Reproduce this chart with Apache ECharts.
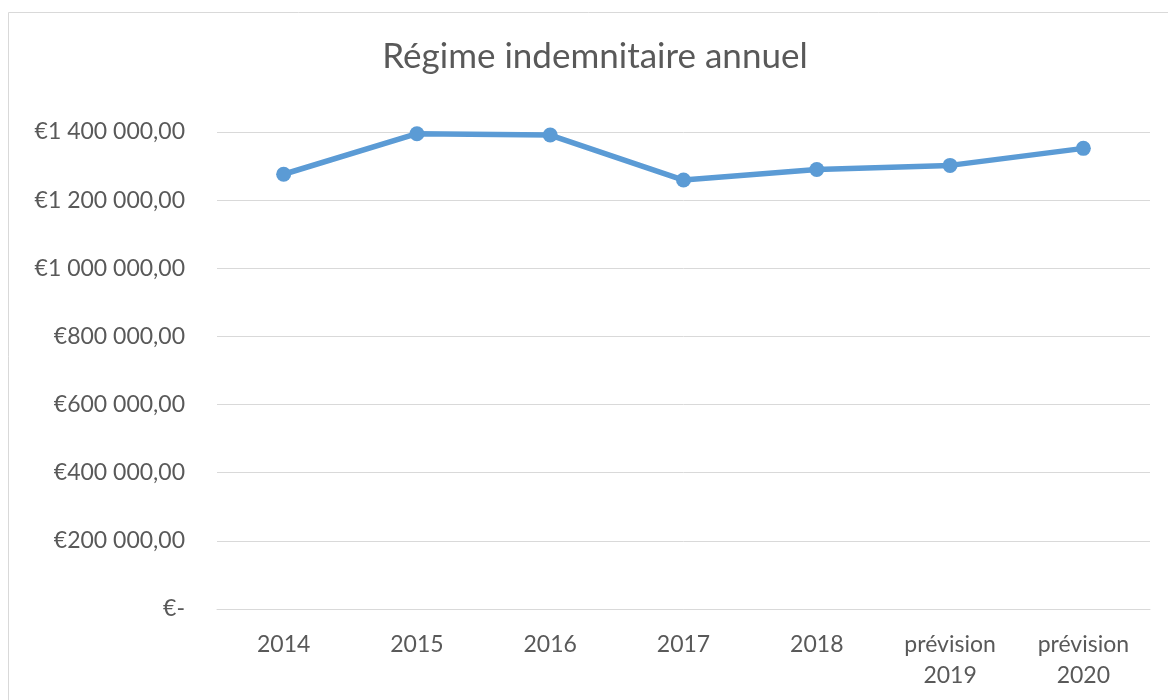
<!DOCTYPE html>
<html>
<head>
<meta charset="utf-8">
<script src="https://cdn.jsdelivr.net/npm/echarts@6/dist/echarts.min.js"></script>
<style>
  html, body { margin: 0; padding: 0; background: #fff; }
  #chart { width: 1168px; height: 700px; }
</style>
</head>
<body>
<div id="chart"></div>
<script>
// catégories et montants
var years = ['2014', '2015', '2016', '2017', '2018', 'prévision\n2019', 'prévision\n2020'];
var montants = [1276000, 1395000, 1391000, 1259000, 1290000, 1302000, 1352000];
var yTicks = [0, 200000, 400000, 600000, 800000, 1000000, 1200000, 1400000];

var fontFam = 'Lato, "Open Sans", sans-serif';

// format "€1 400 000,00" et "€-" pour zéro
var formatEuro = function(v){
    if (v === 0) { return '€-'; }
    var s = String(Math.round(v)).replace(/\B(?=(\d{3})+(?!\d))/g, ' ');
    return '€' + s + ',00';
};

var drawChart = function(){
    var chart = echarts.init(document.getElementById('chart'));
    var option = {
        animation: false,
        title: {
            text: 'Régime indemnitaire annuel',
            left: 590,
            textAlign: 'center',
            top: 34,
            textStyle: { color: '#595959', fontSize: 35, fontWeight: 'normal', fontFamily: fontFam }
        },
        graphic: [{
            type: 'rect',
            shape: { x: 8.5, y: 12.5, width: 1200, height: 720 },
            style: { fill: 'none', stroke: '#d9d9d9', lineWidth: 1 },
            silent: true
        }],
        grid: { left: 217, right: 18, top: 132, bottom: 91 },
        xAxis: {
            type: 'category',
            data: years,
            boundaryGap: true,
            axisLine: { lineStyle: { color: '#d9d9d9', width: 1 } },
            axisTick: { show: false },
            axisLabel: {
                color: '#595959', fontSize: 23, fontFamily: fontFam,
                margin: 20, lineHeight: 31, interval: 0
            }
        },
        yAxis: {
            type: 'value',
            min: 0,
            max: yTicks[yTicks.length - 1],
            interval: yTicks[1] - yTicks[0],
            axisLine: { show: false },
            axisTick: { show: false },
            splitLine: { lineStyle: { color: '#d9d9d9', width: 1 } },
            axisLabel: {
                color: '#595959', fontSize: 23, fontFamily: fontFam,
                margin: 32, formatter: formatEuro
            }
        },
        series: [{
            type: 'line',
            data: montants,
            symbol: 'circle',
            symbolSize: 15,
            lineStyle: { color: '#5b9bd5', width: 5.5 },
            itemStyle: { color: '#5b9bd5' }
        }]
    };
    chart.setOption(option);
};

drawChart();
</script>
</body>
</html>
